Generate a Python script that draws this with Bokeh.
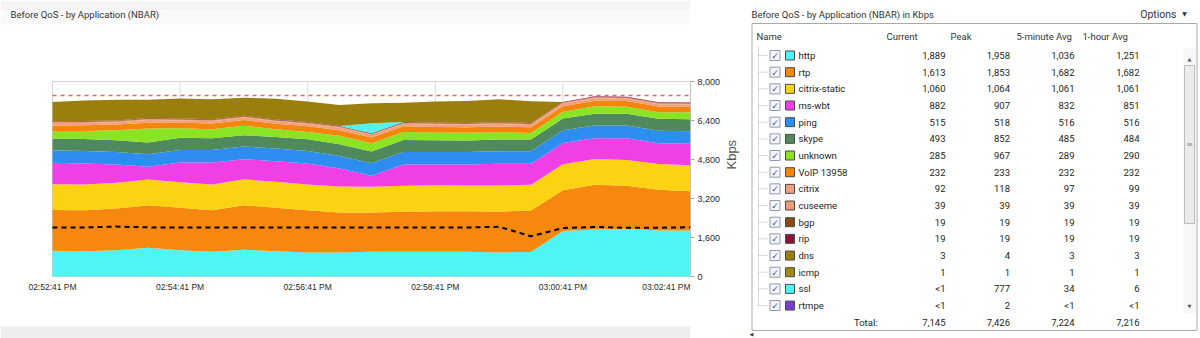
import math
import pandas as pd
from bokeh.plotting import figure
from bokeh.layouts import row
from bokeh.models import ColumnDataSource, Range1d, FixedTicker, NumeralTickFormatter
from bokeh.embed import file_html
from bokeh.resources import INLINE
from bokeh.core.properties import value

# ---------------- chart data (Kbps, 30-second samples) ----------------
chart_title = "Before QoS - by Application (NBAR)"
chart_date = "2024-01-01"
sample_times = ["14:52:41", "14:53:11", "14:53:41", "14:54:11", "14:54:41", "14:55:11", "14:55:41",
                "14:56:11", "14:56:41", "14:57:11", "14:57:41", "14:58:11", "14:58:41", "14:59:11",
                "14:59:41", "15:00:11", "15:00:41", "15:01:11", "15:01:41", "15:02:11", "15:02:41"]
tick_times = ["14:52:41", "14:54:41", "14:56:41", "14:58:41", "15:00:41", "15:02:41"]
tick_labels = ["02:52:41 PM", "02:54:41 PM", "02:56:41 PM", "02:58:41 PM", "03:00:41 PM", "03:02:41 PM"]
y_ticks = [0, 1600, 3200, 4800, 6400, 8000]
y_max = 8000

http = [1054, 1038, 1079, 1178, 1079, 1013, 1095, 1038, 985, 985, 1013, 1013, 1013, 1013, 985, 1005, 1867, 1928, 1958, 1887, 1889]
rtp = [1674, 1682, 1711, 1747, 1740, 1707, 1830, 1781, 1735, 1641, 1613, 1642, 1666, 1666, 1682, 1703, 1674, 1834, 1763, 1670, 1613]
citrix_static = [1052, 1055, 1060, 1058, 1050, 1056, 1061, 1064, 1058, 1062, 1060, 1063, 1061, 1059, 1062, 1057, 1060, 1063, 1061, 1062, 1060]
ms_wbt = [885, 861, 745, 518, 808, 901, 827, 848, 858, 743, 446, 877, 855, 857, 895, 859, 880, 849, 892, 850, 882]
ping = [512, 515, 516, 518, 514, 515, 517, 516, 515, 513, 516, 517, 515, 514, 516, 518, 515, 517, 516, 515, 515]
skype = [484, 490, 478, 482, 505, 480, 470, 475, 482, 486, 478, 490, 480, 470, 482, 475, 488, 490, 485, 483, 493]
unknown = [308, 328, 410, 574, 382, 369, 386, 316, 300, 341, 345, 328, 316, 316, 300, 275, 271, 300, 290, 275, 285]
voip = [231, 232, 233, 232, 230, 232, 233, 232, 231, 232, 233, 232, 232, 231, 233, 232, 232, 233, 232, 232, 232]
citrix = [95, 98, 96, 118, 92, 97, 99, 96, 94, 97, 98, 96, 95, 97, 99, 96, 98, 101, 97, 95, 92]
cuseeme = [39, 39, 39, 39, 39, 39, 39, 39, 39, 39, 39, 39, 39, 39, 39, 39, 39, 39, 39, 39, 39]
bgp = [19, 19, 19, 19, 19, 19, 19, 19, 19, 19, 19, 19, 19, 19, 19, 19, 19, 19, 19, 19, 19]
rip = [19, 19, 19, 19, 19, 19, 19, 19, 19, 19, 19, 19, 19, 19, 19, 19, 19, 19, 19, 19, 19]
ssl = [0, 0, 0, 0, 0, 0, 0, 0, 0, 0, 410, 0, 0, 0, 0, 0, 0, 0, 0, 0, 0]
other = [788, 849, 845, 751, 821, 821, 740, 849, 845, 862, 821, 792, 874, 900, 945, 890, 0, 0, 0, 0, 0]
baseline = [2010, 2012, 2050, 2015, 2010, 2008, 2012, 2010, 2010, 2008, 2010, 2012, 2010, 2010, 2040, 1650, 1990, 2030, 2000, 2000, 2020]
peak_total = 7426

layer_names = ["http", "rtp", "citrix-static", "ms-wbt", "ping", "skype", "unknown", "VoIP 13958",
               "citrix", "cuseeme", "bgp", "rip", "ssl", "other"]
layer_values = [http, rtp, citrix_static, ms_wbt, ping, skype, unknown, voip, citrix, cuseeme, bgp, rip, ssl, other]
layer_colors = ["#4ff4f4", "#f6880f", "#fcd212", "#f03fe6", "#2e8df0", "#4f8a5f", "#8ae424", "#f5850d",
                "#f1a07c", "#f09b78", "#8b4a14", "#8b1538", "#4ff4f4", "#9b7f0e"]

# ---------------- table data ----------------
tbl_title = "Before QoS - by Application (NBAR) in Kbps"
options_label = "Options"
col_headers = ["Name", "Current", "Peak", "5-minute Avg", "1-hour Avg"]
app_names = ["http", "rtp", "citrix-static", "ms-wbt", "ping", "skype", "unknown", "VoIP 13958",
             "citrix", "cuseeme", "bgp", "rip", "dns", "icmp", "ssl", "rtmpe"]
app_colors = ["#4ff4f4", "#f6880f", "#fcd212", "#f03fe6", "#2e8df0", "#4f8a5f", "#8ae424", "#f5850d",
              "#f1a07c", "#f09b78", "#8b4a14", "#8b1538", "#9b7f0e", "#a08a12", "#4ff4f4", "#7a3ed0"]
current_vals = ["1,889", "1,613", "1,060", "882", "515", "493", "285", "232", "92", "39", "19", "19", "3", "1", "<1", "<1"]
peak_vals = ["1,958", "1,853", "1,064", "907", "518", "852", "967", "233", "118", "39", "19", "19", "4", "1", "777", "2"]
avg5_vals = ["1,036", "1,682", "1,061", "832", "516", "485", "289", "232", "97", "39", "19", "19", "3", "1", "34", "<1"]
avg60_vals = ["1,251", "1,682", "1,061", "851", "516", "484", "290", "232", "99", "39", "19", "19", "3", "1", "6", "<1"]
total_label = "Total:"
total_vals = ["7,145", "7,426", "7,224", "7,216"]

# ---------------- layout constants (page pixels) ----------------
PLOT_L, PLOT_R, PLOT_T, PLOT_B = 52, 690, 81, 276   # chart data area
LEFT_W, H = 745, 338
RIGHT_X0 = 750          # where the table figure starts (left figure's axis needs ~60 px)
UI = "Roboto"
AX = "Liberation Sans"

times = pd.to_datetime([chart_date + " " + t for t in sample_times])
tick_ts = pd.to_datetime([chart_date + " " + t for t in tick_times])
t0, t1 = times[0], times[-1]
sec_per_px = (t1 - t0).total_seconds() / (PLOT_R - PLOT_L)
kbps_per_px = y_max / (PLOT_B - PLOT_T)


def tx(px):   # page x pixel -> time
    return t0 + pd.Timedelta(seconds=(px - PLOT_L) * sec_per_px)


def vy(py):   # page y pixel -> Kbps
    return (PLOT_B - py) * kbps_per_px


data = {"t": times, "baseline": baseline}
for n, v in zip(layer_names, layer_values):
    data[n] = v
src = ColumnDataSource(data)

# ---------------- left chart ----------------
p = figure(frame_width=PLOT_R, frame_height=H, x_axis_location=None, y_axis_location="right",
           x_range=Range1d(tx(0), tx(PLOT_R)), y_range=Range1d(vy(H), vy(0)),
           min_border_left=0, min_border_right=LEFT_W - PLOT_R, min_border_top=0, min_border_bottom=0,
           output_backend="svg", toolbar_location=None,
           background_fill_color="white", border_fill_color="white")
p.grid.visible = False
p.outline_line_color = None

# panel decorations: faint title-bar shading and bottom strip
p.quad(left=[tx(0)], right=[tx(PLOT_R)], top=[vy(0)], bottom=[vy(10)], fill_color="#f6f3f5", line_color=None)
p.quad(left=[tx(0)], right=[tx(PLOT_R)], top=[vy(10)], bottom=[vy(24)], fill_color="#fbfafb", line_color=None)
p.quad(left=[tx(0)], right=[tx(PLOT_R)], top=[vy(326)], bottom=[vy(H)], fill_color="#eeeeee", line_color=None)

# vertical grid lines and plot frame
p.segment(x0=tick_ts, y0=[0] * len(tick_ts), x1=tick_ts, y1=[y_max] * len(tick_ts),
          line_color="#dadada", line_width=1)
p.quad(left=[t0], right=[t1], bottom=[0], top=[y_max], fill_color=None, line_color="#d2d2d2", line_width=1)

p.varea_stack(stackers=layer_names, x="t", color=layer_colors, source=src)
p.line(x="t", y="baseline", source=src, line_color="black", line_width=2, line_dash="5 4")
p.segment(x0=[t0], y0=[peak_total], x1=[t1], y1=[peak_total], line_color="#e06464",
          line_width=1.5, line_dash="4 4")
p.segment(x0=[t1], y0=[0], x1=[t1], y1=[y_max], line_color="#a8a8a8", line_width=1)

# x tick labels (placed through the time scale); the last one ends at the frame edge
n_ticks = len(tick_ts)
p.text(x=list(tick_ts[:-1]), y=[vy(286)] * (n_ticks - 1), text=tick_labels[:-1], text_align="center",
       text_baseline="middle", text_font=value(AX), text_font_size=value("8.5px"), text_color="#2a2a2a")
p.text(x=[tick_ts[-1]], y=[vy(286)], text=[tick_labels[-1]], text_align="right",
       text_baseline="middle", text_font=value(AX), text_font_size=value("8.5px"), text_color="#2a2a2a")
# chart title
p.text(x=[tx(10)], y=[vy(14)], text=[chart_title], text_align="left", text_baseline="middle",
       text_font=value(UI), text_font_size=value("9.5px"), text_color="#333333")

ya = p.yaxis[0]
ya.ticker = FixedTicker(ticks=y_ticks)
ya.formatter = NumeralTickFormatter(format="0,0")
ya.axis_line_color = None
ya.major_tick_line_color = "#a8a8a8"
ya.major_tick_out = 4
ya.major_tick_in = 0
ya.minor_tick_line_color = None
ya.major_label_standoff = 3
ya.major_label_text_font = AX
ya.major_label_text_font_size = "9px"
ya.major_label_text_color = "#2a2a2a"
ya.axis_label = "Kbps"
ya.axis_label_text_font = AX
ya.axis_label_text_font_size = "13px"
ya.axis_label_text_font_style = "normal"
ya.axis_label_text_color = "#555555"
ya.axis_label_standoff = 8
try:
    ya.axis_label_orientation = math.pi / 2
except Exception:
    pass

# ---------------- right table panel ----------------
p2 = figure(frame_width=1200 - RIGHT_X0, frame_height=H, x_range=Range1d(RIGHT_X0, 1200), y_range=Range1d(H, 0),
            min_border=0, output_backend="svg", toolbar_location=None,
            x_axis_location=None, y_axis_location=None,
            background_fill_color="white", border_fill_color="white")
p2.grid.visible = False
p2.outline_line_color = None


def add_text(xs, ys, texts, align="left", size="9.5px", color="#1e1e1e", font=UI):
    p2.text(x=xs, y=ys, text=texts, text_align=align, text_baseline="middle",
            text_font=value(font), text_font_size=value(size), text_color=color)


box_l, box_r, box_t, box_b = 752.5, 1197.5, 23, 330
p2.quad(left=[box_l], right=[box_r], top=[box_t], bottom=[box_b],
        fill_color="white", line_color="#a9a9a9", line_width=1)

add_text([752], [14], [tbl_title], size="9.5px", color="#333333")
add_text([1177], [14], [options_label], align="right", size="10.5px", color="#333333")
add_text([1185], [13], ["\u25BC"], align="center", size="6px", color="#333333", font="DejaVu Sans")

hdr_x = [757, 887, 951, 1017, 1083]
add_text(hdr_x, [36] * len(hdr_x), col_headers, size="9.5px", color="#333333")

row_y0, row_h = 55, 16.67
n_rows = len(app_names)
row_ys = [row_y0 + i * row_h for i in range(n_rows)]

# tree connectors
p2.segment(x0=[759], y0=[46], x1=[759], y1=[row_ys[-1]], line_color="#b4b4b4", line_width=1, line_dash="1 1")
p2.segment(x0=[759] * n_rows, y0=row_ys, x1=[768] * n_rows, y1=row_ys,
           line_color="#b4b4b4", line_width=1, line_dash="1 1")
# checkboxes
p2.rect(x=[775.5] * n_rows, y=row_ys, width=10, height=10, fill_color="#f4f6fa",
        line_color="#8e9aae", line_width=1)
add_text([775.5] * n_rows, [y + 0.5 for y in row_ys], ["\u2713"] * n_rows, align="center",
         size="9px", color="#3a57a0", font="DejaVu Sans")
# colour swatches
p2.rect(x=[790.5] * n_rows, y=row_ys, width=9, height=9, fill_color=app_colors,
        line_color="#4a4a4a", line_width=1)
add_text([799] * n_rows, row_ys, app_names, size="9.5px")

val_right = [946, 1010.5, 1075, 1140]
for xr, vals in zip(val_right, [current_vals, peak_vals, avg5_vals, avg60_vals]):
    add_text([xr] * n_rows, row_ys, vals, align="right", size="9.5px")

total_y = row_y0 + n_rows * row_h
add_text([878], [total_y], [total_label], align="right", size="9.5px")
add_text(val_right, [total_y] * 4, total_vals, align="right", size="9.5px")

# scrollbar
p2.quad(left=[1184], right=[1196], top=[48], bottom=[313], fill_color="#f7f7f7", line_color=None)
p2.quad(left=[1185], right=[1195], top=[65], bottom=[223], fill_color="#ececec",
        line_color="#bcbcbc", line_width=1)
add_text([1190], [144], ["\u2261"], align="center", size="8px", color="#888888", font="DejaVu Sans")
add_text([1190], [58], ["\u25B2"], align="center", size="5px", color="#555555", font="DejaVu Sans")
add_text([1190], [305], ["\u25BC"], align="center", size="5px", color="#555555", font="DejaVu Sans")
add_text([752], [333], ["\u25C0"], align="center", size="5px", color="#333333", font="DejaVu Sans")

layout = row(p, p2)
open("out.html", "w").write(file_html(layout, INLINE))
